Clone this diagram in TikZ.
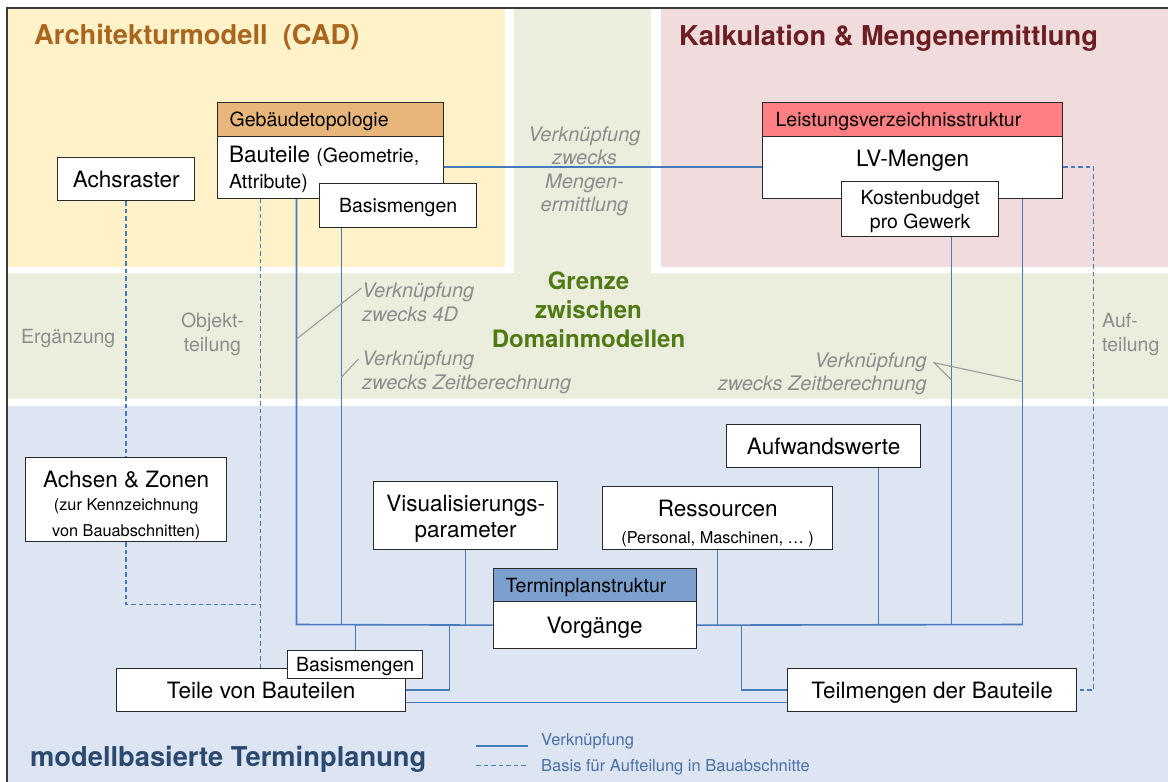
\documentclass[tikz,border=0pt]{standalone}
\usepackage{fontspec}
\setmainfont{TeX Gyre Heros}
\usetikzlibrary{calc}
\pgfdeclarelayer{bg}
\pgfdeclarelayer{conn}
\pgfsetlayers{bg,conn,main}

\definecolor{cadbg}{HTML}{FFF2C9}
\definecolor{gzbg}{HTML}{EBEEDD}
\definecolor{kalbg}{HTML}{F0DCDC}
\definecolor{tpbg}{HTML}{DCE5F1}
\definecolor{gthead}{HTML}{E8B67A}
\definecolor{lvhead}{HTML}{FF7F82}
\definecolor{tphead}{HTML}{7BA0CE}
\definecolor{linkc}{HTML}{4779BD}
\definecolor{notec}{HTML}{8C8C8C}
\definecolor{noteln}{HTML}{9A9A9A}
\definecolor{boxline}{HTML}{2A2A2A}
\definecolor{framec}{HTML}{3A3A3A}
\definecolor{cadtitle}{HTML}{A9661E}
\definecolor{kaltitle}{HTML}{6B1F22}
\definecolor{gztitle}{HTML}{4F7A14}
\definecolor{tptitle}{HTML}{2C4A70}
\definecolor{legendc}{HTML}{4A70A8}

\newcommand\fbig{\fontsize{22.5}{26}\selectfont}
\newcommand\fmid{\fontsize{19.5}{24}\selectfont}
\newcommand\fsmall{\fontsize{16.3}{19.5}\selectfont}
\newcommand\fnote{\fontsize{20}{23.5}\selectfont}
\newcommand\ftitle{\fontsize{27.3}{30}\selectfont\bfseries}
\newcommand\fgz{\fontsize{24}{29}\selectfont\bfseries}
\newcommand\flegend{\fontsize{16.5}{20}\selectfont}

\begin{document}
\begin{tikzpicture}[x=1pt,y=-1pt,
  box/.style={draw=boxline, line width=1.3pt, fill=white, inner sep=0pt},
  bigone/.style={font=\fbig, text height=16.2pt, text depth=0pt},
  midone/.style={font=\fmid, text height=14pt, text depth=0pt},
  boxtext/.style={inner sep=0pt, align=flush center},
  link/.style={draw=linkc, line width=1.6pt},
  dlink/.style={draw=linkc, line width=1.4pt, dash pattern=on 4.5pt off 3pt},
  noteline/.style={draw=noteln, line width=1.1pt},
  note/.style={font=\fnote\itshape, text=notec, inner sep=0pt},
  plain/.style={font=\fmid, text=notec, inner sep=0pt},
  title/.style={font=\ftitle, inner sep=0pt},
  legend/.style={font=\flegend, text=legendc, inner sep=0pt},
  frame/.style={draw=framec, line width=1.5pt}
]
\useasboundingbox (0,0) rectangle (1168,782);

% coloured domain areas
\begin{pgfonlayer}{bg}
  \fill[white] (0,0) rectangle (1168,782);
  \fill[cadbg] (8,9) rectangle (505,267);
  \fill[gzbg] (514,9) rectangle (651,273);
  \fill[gzbg] (8,273) rectangle (1168,399);
  \fill[kalbg] (661,9) rectangle (1168,267);
  \fill[tpbg] (8,406) rectangle (1168,782);
  \draw[frame] (1170,8) -- (7,8) -- (7,784);
\end{pgfonlayer}

% area titles
\node[title, text=cadtitle, anchor=base west] (t-cad) at (34,44) {Architekturmodell\ \ (CAD)};
\node[title, text=kaltitle, anchor=base west] (t-kal) at (679,45) {Kalkulation \& Mengenermittlung};
\node[font=\fgz, text=gztitle, inner sep=0pt, anchor=base, text width=220pt, align=flush center] (t-gz) at (588.5,289.5) {Grenze\\zwischen\\Domainmodellen};
\node[title, text=tptitle, anchor=base west] (t-tp) at (30,766) {modellbasierte Terminplanung};

% architecture model
\node[box, bigone, minimum width=137pt, minimum height=43pt, anchor=north west] (ar) at (57,157) {Achsraster};
\node[box, midone, fill=gthead, text width=202pt, align=flush left, inner xsep=12pt, minimum height=34pt, anchor=north west] (gt) at (217,102) {Gebäudetopologie};
\node[box, minimum width=226pt, minimum height=62pt, anchor=north west] (bt) at (217,135.5) {};
\node[inner sep=0pt, font=\fbig, text width=210pt, align=flush left, anchor=base west] (bt-t) at ($(bt.north west)+(12,26.5)$) {Bauteile {\fmid (Geometrie,}\\\fmid Attribute)};
\node[box, midone, minimum width=157pt, minimum height=44pt, anchor=north west] (bm1) at (319,183) {Basismengen};

% cost estimation
\node[box, midone, fill=lvhead, text width=274pt, align=flush left, inner xsep=13pt, minimum height=34pt, anchor=north west] (lvs) at (762,102) {Leistungsverzeichnisstruktur};
\node[box, minimum width=300pt, minimum height=62pt, anchor=north west] (lv) at (762,135.5) {};
\node[bigone, inner sep=0pt, anchor=base] (lv-t) at ($(lv.north)+(0,30.5)$) {LV-Mengen};
\node[box, minimum width=157pt, minimum height=55pt, anchor=north west] (kb) at (841,181) {};
\node[boxtext, font=\fmid, text width=150pt, anchor=base] (kb-t) at ($(kb.north)+(0,23)$) {Kostenbudget\\pro Gewerk};

% scheduling model
\node[box, minimum width=201pt, minimum height=84pt, anchor=north west] (az) at (25,457) {};
\node[boxtext, font=\fbig, text width=195pt, anchor=base] (az-t) at ($(az.north)+(0,30)$) {Achsen \& Zonen\\[3.5pt]\fsmall (zur Kennzeichnung\\von Bauabschnitten)};
\node[box, minimum width=184pt, minimum height=68pt, anchor=north west] (vis) at (373,481) {};
\node[boxtext, font=\fbig, text width=180pt, anchor=base] (vis-t) at ($(vis.north)+(0,30)$) {Visualisierungs-\\parameter};
\node[box, minimum width=230pt, minimum height=63pt, anchor=north west] (res) at (602,486) {};
\node[boxtext, font=\fbig, text width=225pt, anchor=base] (res-t) at ($(res.north)+(0,30)$) {Ressourcen\\[1.5pt]\fsmall (Personal, Maschinen, … )};
\node[box, bigone, minimum width=194pt, minimum height=43pt, anchor=north west] (aw) at (726,424) {Aufwandswerte};
\node[box, midone, fill=tphead, text width=178pt, align=flush left, inner xsep=12.5pt, minimum height=33pt, anchor=north west] (tps) at (492.5,568) {Terminplanstruktur};
\node[box, bigone, minimum width=203pt, minimum height=47pt, anchor=north west] (vg) at (492.5,601) {Vorgänge};
\node[box, bigone, minimum width=289pt, minimum height=43pt, anchor=north west] (teile) at (116,668) {Teile von Bauteilen};
\node[box, midone, minimum width=135pt, minimum height=28pt, anchor=north west] (bm2) at (287,650) {Basismengen};
\node[box, bigone, minimum width=289pt, minimum height=43pt, anchor=north west] (tm) at (787,668) {Teilmengen der Bauteile};

% annotations
\node[note, anchor=base, text width=130pt, align=flush center] (n-mg) at (584.5,141) {Verknüpfung\\zwecks\\Mengen-\\ermittlung};
\node[note, anchor=base west, text width=200pt, align=flush left] (n-4d) at (362,297.5) {Verknüpfung\\zwecks 4D};
\node[note, anchor=base west, text width=250pt, align=flush left] (n-zl) at (362,365.5) {Verknüpfung\\zwecks Zeitberechnung};
\node[note, anchor=base east, text width=250pt, align=flush right] (n-zr) at (927,367) {Verknüpfung\\zwecks Zeitberechnung};
\node[plain, anchor=base west] (n-erg) at (21,343) {Ergänzung};
\node[plain, anchor=base, text width=100pt, align=flush center] (n-obj) at (212.5,327) {Objekt-\\teilung};
\node[plain, anchor=base west, text width=80pt, align=flush left] (n-auf) at (1102,327) {Auf-\\teilung};

% legend
\coordinate (lg1a) at (476,745.5);
\coordinate (lg1b) at (528,745.5);
\coordinate (lg2a) at (476,765.5);
\coordinate (lg2b) at (528,765.5);
\node[legend, anchor=base west] (lg1-t) at (541,745) {Verknüpfung};
\node[legend, anchor=base west] (lg2-t) at (541,771) {Basis für Aufteilung in Bauabschnitte};

% bus and branch points
\coordinate (xA) at (296.5,624.5);
\coordinate (xB) at (341.5,624.5);
\coordinate (xBm) at (355.5,624.5);
\coordinate (xT) at (449.5,624.5);
\coordinate (xV) at (465.5,624.5);
\coordinate (xR) at (717.5,624.5);
\coordinate (xTm) at (741.5,624.5);
\coordinate (xAw) at (878.5,624.5);
\coordinate (xK) at (951.5,624.5);
\coordinate (xLV) at (1022.5,624.5);
\coordinate (yLow) at (0,702.5);
\coordinate (xD) at (260.5,604.5);
\coordinate (xRD) at (1093.5,0);
\coordinate (g4a) at (296.5,339);
\coordinate (g4b) at (361.5,288);
\coordinate (gza) at (341.5,377);
\coordinate (gzb) at (358.5,359);
\coordinate (gzr) at (934,362.7);
\coordinate (gk) at (951.5,380);
\coordinate (glv) at (1022.5,381.7);

\begin{pgfonlayer}{conn}
  % links
  \draw[link] (bt.east) -- (lv.west);
  \draw[link] (bt.south -| xA) -- (xA) -- (vg.west);
  \draw[link] (bm1.south -| xB) -- (xB);
  \draw[link] (vis.south -| xV) -- (xV);
  \draw[link] (bm2.north -| xBm) -- (xBm);
  \draw[link] (xT) |- (teile.east);
  \draw[link] (teile.east |- yLow) -- (tm.west |- yLow);
  \draw[link] (vg.east) -- (xLV);
  \draw[link] (lv.south -| xLV) -- (xLV);
  \draw[link] (kb.south -| xK) -- (xK);
  \draw[link] (aw.south -| xAw) -- (xAw);
  \draw[link] (res.south -| xR) -- (xR);
  \draw[link] (xTm) |- (tm.west);
  % division basis
  \draw[dlink] (ar.south) -- (az.north);
  \draw[dlink] (az.south) |- (xD);
  \draw[dlink] (bt.south -| xD) -- (teile.north -| xD);
  \draw[dlink] (lv.east) -| (xRD |- tm.east) -- (tm.east);
  % annotation leaders
  \draw[noteline] (g4a) -- (g4b);
  \draw[noteline] (gza) -- (gzb);
  \draw[noteline] (gk) -- (gzr) -- (glv);
  % legend samples
  \draw[link, line width=2pt] (lg1a) -- (lg1b);
  \draw[dlink] (lg2a) -- (lg2b);
\end{pgfonlayer}
\end{tikzpicture}
\end{document}
